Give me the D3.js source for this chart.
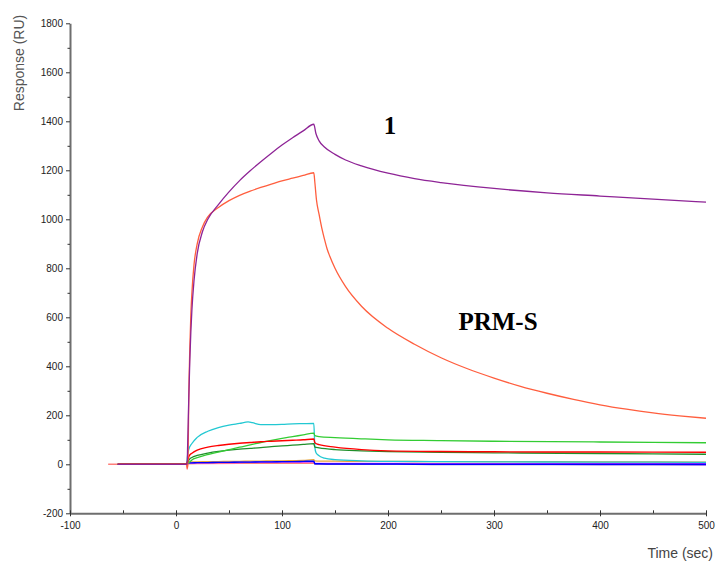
<!DOCTYPE html>
<html><head><meta charset="utf-8">
<script src="https://cdn.jsdelivr.net/npm/d3@7"></script>
<style>body{margin:0;background:#fff}</style>
</head><body><svg id="c" width="716" height="564"></svg>
<script>
// ---- data ----
const xTicks = [-100, 0, 100, 200, 300, 400, 500];
const xMinorTicks = [-50, 50, 150, 250, 350, 450];
const yTicks = [-200, 0, 200, 400, 600, 800, 1000, 1200, 1400, 1600, 1800];
const yMinorTicks = [-100, 100, 300, 500, 700, 900, 1100, 1300, 1500, 1700];

const timePurple = [-55, 10, 10.5, 11, 12, 13, 14, 15, 17, 20, 25, 30, 40, 50, 60, 70, 80, 90, 100, 110, 120, 130, 132, 135, 140, 150, 160, 175, 200, 225, 250, 300, 350, 400, 450, 500];
const respPurple = [0, 0, 0, 80, 260, 420, 540, 630, 750, 860, 950, 1000, 1060, 1112, 1158, 1198, 1235, 1270, 1303, 1333, 1361, 1388, 1350, 1320, 1295, 1265, 1242, 1218, 1188, 1166, 1150, 1126, 1108, 1095, 1082, 1070];

const timePRMS = [-55, 10, 11, 11.5, 12, 13, 14, 15, 17, 20, 25, 30, 40, 50, 60, 70, 80, 90, 100, 110, 120, 130, 131, 132.5, 135, 137.5, 140, 142.5, 145, 150, 160, 175, 200, 225, 250, 275, 300, 325, 350, 375, 400, 425, 450, 475, 500];
const respPRMS = [0, 0, -16, 60, 250, 470, 610, 700, 815, 900, 970, 1010, 1048, 1076, 1098, 1115, 1130, 1144, 1157, 1168, 1179, 1190, 1150, 1080, 1020, 965, 920, 880, 850, 800, 725, 645, 555, 490, 435, 390, 352, 318, 290, 265, 243, 225, 210, 198, 188];

const timeCyan = [-55, 10, 11, 12, 15, 20, 30, 40, 50, 60, 68, 72, 80, 90, 100, 110, 120, 130, 131, 132, 134, 140, 150, 175, 200, 300, 400, 500];
const respCyan = [0, 0, 40, 60, 85, 110, 135, 150, 160, 167, 173, 170, 162, 162, 163, 165, 166, 167, 70, 48, 38, 25, 19, 14, 12, 10, 9, 8];

const timeSmall = [-55, 10, 11, 12, 13, 15, 20, 30, 40, 50, 60, 70, 80, 90, 100, 110, 120, 130, 131, 135, 150, 175, 200, 250, 300, 400, 500];
const respLightGreen = [0, 0, 3, 6, 10, 18, 27, 40, 50, 60, 70, 79, 89, 98, 106, 113, 120, 127, 117, 113, 109, 104, 100, 97, 94, 91, 88];
const respRed = [0, 0, 15, 30, 38, 45, 58, 70, 77, 82, 86, 89, 92, 94, 96, 98, 100, 103, 88, 80, 70, 60, 55, 52, 51, 50, 49];
const respDarkGreen = [0, 0, 8, 15, 22, 28, 36, 46, 53, 58, 62, 65, 68, 72, 75, 78, 81, 84, 70, 67, 60, 55, 52, 49, 47, 44, 41];
const respOrange = [0, 0, 6, 8, 9, 10, 10, 11, 11, 12, 12, 13, 13, 14, 14, 15, 16, 19, 14, 13, 13, 12, 12, 11, 11, 10, 9];
const respMagenta = [0, 0, 3, 4, 5, 5, 6, 6, 7, 7, 7, 8, 8, 8, 9, 9, 9, 10, 4, 4, 4, 4, 4, 3, 3, 3, 3];
const respViolet = [0, 0, 4, 5, 5, 6, 7, 7, 8, 8, 9, 9, 10, 10, 10, 11, 11, 12, 2, 1, 1, 0, 0, -1, -1, -2, -3];
const respBlue = [0, 0, 5, 5, 6, 6, 7, 7, 8, 8, 9, 9, 10, 10, 11, 11, 12, 13, 2, 2, 1, 1, 1, 0, 0, 0, 0];

const timeSalmon = [-64, 10, 10.5, 11, 12, 20, 60, 100, 130, 131, 200, 300, 500];
const respSalmon = [0, 0, -20, 0, 2, 3, 4, 4, 5, 2, 2, 2, 2];

const series = [
  {t: timeSalmon, v: respSalmon, c: "#ff7f7a", w: 1.6},
  {t: timeSmall, v: respMagenta, c: "#ff33ff", w: 1.3},
  {t: timeSmall, v: respOrange, c: "#e6a53a", w: 1.3},
  {t: timeSmall, v: respViolet, c: "#8a55e8", w: 1.3},
  {t: timeSmall, v: respBlue, c: "#0000ff", w: 1.4},
  {t: timeCyan, v: respCyan, c: "#22c8d2", w: 1.3},
  {t: timeSmall, v: respDarkGreen, c: "#1f8f2a", w: 1.3},
  {t: timeSmall, v: respLightGreen, c: "#33cc33", w: 1.3},
  {t: timeSmall, v: respRed, c: "#ff0000", w: 1.4},
  {t: timePRMS, v: respPRMS, c: "#ff5e3e", w: 1.3},
  {t: timePurple, v: respPurple, c: "#8e2496", w: 1.3}
];

// ---- chart ----
const svg = d3.select("#c");
const x = d3.scaleLinear().domain([-100, 500]).range([70, 706]);
const y = d3.scaleLinear().domain([-200, 1800]).range([513.3, 23.3]);
const font = "'Liberation Sans', Arial, sans-serif";
const fmt = d => String(d);

const line = d3.line().x(d => x(d[0])).y(d => y(d[1])).curve(d3.curveMonotoneX);
svg.append("g").selectAll("path").data(series).join("path")
  .attr("d", s => line(s.t.map((t, i) => [t, s.v[i]])))
  .attr("fill", "none").attr("stroke", s => s.c).attr("stroke-width", s => s.w)
  .attr("stroke-linejoin", "round");

// y axis
const gy = svg.append("g").attr("transform", "translate(70,0)");
gy.call(d3.axisLeft(y).tickValues(yTicks).tickFormat(fmt).tickSize(4).tickSizeOuter(0).tickPadding(3));
gy.append("g").call(d3.axisLeft(y).tickValues(yMinorTicks).tickSize(2.5).tickSizeOuter(0).tickFormat(""))
  .select(".domain").remove();
// x axis
const gx = svg.append("g").attr("transform", "translate(0,513.3)");
gx.call(d3.axisBottom(x).tickValues(xTicks).tickFormat(fmt).tickSize(3).tickSizeOuter(0).tickPadding(6));
gx.selectAll(".tick line").attr("y1", -3);
gx.append("g").call(d3.axisBottom(x).tickValues(xMinorTicks).tickSize(-3).tickSizeOuter(0).tickFormat(""))
  .select(".domain").remove();

svg.selectAll(".domain").attr("stroke", "#6e6e6e").attr("stroke-width", 2);
svg.selectAll(".tick line").attr("stroke", "#333").attr("stroke-width", 1);
svg.selectAll(".tick text").attr("font-family", font).attr("font-size", 10).attr("fill", "#222");

// axis titles
svg.append("text").attr("transform", "rotate(-90)").attr("x", -63).attr("y", 23.5)
  .attr("text-anchor", "middle").attr("font-family", font).attr("font-size", 14)
  .attr("fill", "#555").text("Response (RU)");
svg.append("text").attr("x", 713).attr("y", 558).attr("text-anchor", "end")
  .attr("font-family", font).attr("font-size", 14).attr("fill", "#444").text("Time (sec)");

// annotations
svg.append("text").attr("x", 390).attr("y", 134).attr("text-anchor", "middle")
  .attr("font-family", "'Liberation Serif', 'Times New Roman', serif").attr("font-weight", "bold")
  .attr("font-size", 25).attr("fill", "#000").text("1");
svg.append("text").attr("x", 498).attr("y", 330).attr("text-anchor", "middle")
  .attr("font-family", "'Liberation Serif', 'Times New Roman', serif").attr("font-weight", "bold")
  .attr("font-size", 25).attr("fill", "#000").text("PRM-S");
</script></body></html>
